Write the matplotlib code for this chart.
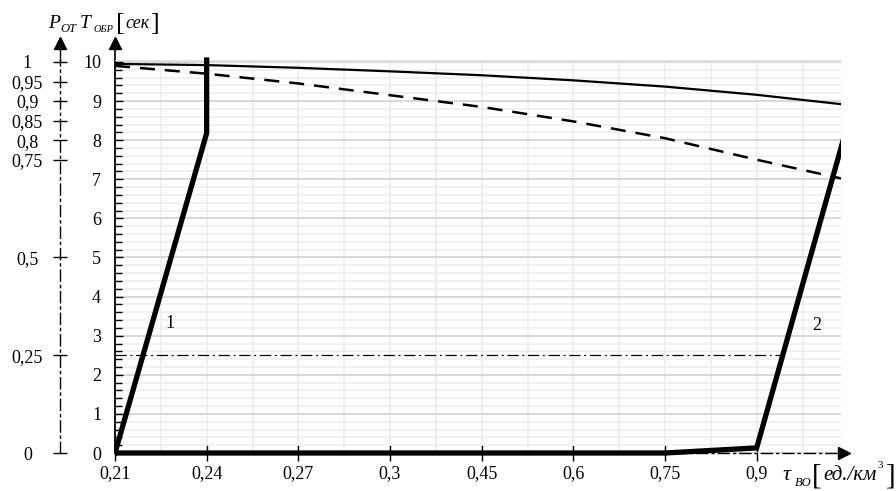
import numpy as np
import matplotlib
matplotlib.use("Agg")
import matplotlib.pyplot as plt
from matplotlib.patches import Rectangle
from matplotlib.ticker import MultipleLocator

plt.rcParams['font.family'] = ['Liberation Serif', 'DejaVu Serif']

# categories on the tau axis (equal spacing, index positions)
tau_labels = ['0,21', '0,24', '0,27', '0,3', '0,45', '0,6', '0,75', '0,9']
# curves run one step past the last category and are clipped at the frame
x_ext = np.arange(len(tau_labels) + 1)

t_solid = [9.95, 9.92, 9.85, 9.76, 9.66, 9.53, 9.37, 9.16, 8.9]
t_dashed = [9.9, 9.7, 9.45, 9.15, 8.85, 8.48, 8.05, 7.5, 6.98]

line1_x = [0, 1, 1]
line1_t = [0, 8.18, 10.05]
line2_x = [0, 6, 7, 8]
line2_t = [0, 0, 0.13, 8.47]

p_level = 0.25
p_ticks = [0, 0.25, 0.5, 0.75, 0.8, 0.85, 0.9, 0.95, 1]
p_labels = ['0', '0,25', '0,5', '0,75', '0,8', '0,85', '0,9', '0,95', '1']

W, H = 896, 491
fig = plt.figure(figsize=(W / 100, H / 100), dpi=100)
ax = fig.add_axes([115 / W, 38 / H, 726 / W, 393 / H])
t_top = 10.05
ax.set_xlim(0, 7.92)
ax.set_ylim(0, t_top)

# grid
ax.set_xticks(np.arange(len(tau_labels)), tau_labels)
ax.set_xticks(np.arange(0.5, 8, 0.5), minor=True)
ax.set_yticks(range(11))
ax.yaxis.set_minor_locator(MultipleLocator(0.2))
ax.grid(which='major', axis='y', color='#d6d6d6', lw=1.3, zorder=0)
ax.grid(which='minor', axis='y', color='#eeeeee', lw=1.1, zorder=0)
ax.grid(which='both', axis='x', color='#eeeeee', lw=1.3, zorder=0)
ax.set_axisbelow(True)

ax.tick_params(axis='x', which='major', direction='inout', length=11, width=1,
               pad=3.5, labelsize=13)
ax.tick_params(axis='x', which='minor', length=0)
ax.tick_params(axis='y', which='major', direction='in', length=6, width=1,
               pad=10, labelsize=13)
ax.tick_params(axis='y', which='minor', direction='in', length=5, width=1)

ax.spines['right'].set_visible(False)
ax.spines['top'].set_color('#e4e4e4')
ax.spines['left'].set_linewidth(1.3)
ax.spines['bottom'].set_linestyle((0, (8, 3, 1.5, 3)))
ax.spines['bottom'].set_linewidth(1)

# curves; clip a little below the frame so the thick base line keeps its width
clip = Rectangle((0, -0.02), 1, 1.04, transform=ax.transAxes, fill=False)
ax.plot(x_ext, t_solid, color='black', lw=1.6, zorder=3)
ax.plot(x_ext, t_dashed, color='black', lw=1.8, dashes=(6, 4), zorder=3)
for lx, lt in [(line1_x, line1_t), (line2_x, line2_t)]:
    ln, = ax.plot(lx, lt, color='black', lw=3.8, zorder=4,
                  solid_joinstyle='miter')
    ln.set_clip_path(clip)

# level P = 0.25 up to curve 2
t_level = p_level * 10
x_end = np.interp(t_level, line2_t[2:], line2_x[2:])
ax.plot([0, x_end], [t_level, t_level], color='black', lw=0.9,
        dashes=(9, 3, 1.5, 3), zorder=2)

ax.text(0.6, 3.3, '1', fontsize=13, ha='center', va='center')
ax.text(7.66, 3.25, '2', fontsize=13, ha='center', va='center')

# P axis
ax2 = ax.twinx()
ax2.set_ylim(0, t_top / 10)
ax2.yaxis.tick_left()
for s in ['right', 'top', 'bottom']:
    ax2.spines[s].set_visible(False)
ax2.spines['left'].set_position(('outward', 39.6))
ax2.spines['left'].set_linestyle((0, (8, 3, 1.5, 3)))
ax2.spines['left'].set_linewidth(1)
ax2.set_yticks(p_ticks, p_labels)
ax2.tick_params(axis='y', direction='inout', length=10, width=1, pad=18.5,
                labelsize=13)
for lab in ax2.get_yticklabels():
    lab.set_horizontalalignment('center')

# arrows
px = -55 / 726
for xa in [0, px]:
    ax.plot([xa, xa], [1, 1.04], color='black', lw=1.2 if xa == 0 else 1,
            transform=ax.transAxes, clip_on=False)
    ax.plot([xa], [1.042], marker='^', ms=9, color='black',
            transform=ax.transAxes, clip_on=False)
ax.plot([1.004], [0], marker='>', ms=9, color='black',
        transform=ax.transAxes, clip_on=False)


def ftext(x, y, s, **kw):
    fig.text(x / W, 1 - y / H, s, **kw)


# axis titles
ftext(54, 24, 'P', fontsize=14, style='italic', ha='center', va='center')
ftext(68, 29, 'OT', fontsize=9, style='italic', ha='center', va='center')
ftext(85, 24, 'T', fontsize=14, style='italic', ha='center', va='center')
ftext(103, 29, 'ОБР', fontsize=7.5, style='italic', ha='center', va='center')
ftext(120, 24, '[', fontsize=19, ha='center', va='center')
ftext(137, 23, 'сек', fontsize=13, style='italic', ha='center', va='center')
ftext(154, 24, ']', fontsize=19, ha='center', va='center')

ftext(787, 476, 'τ', fontsize=16, style='italic', ha='center', va='center')
ftext(803, 483, 'BO', fontsize=9, style='italic', ha='center', va='center')
ftext(817, 476, '[', fontsize=21, ha='center', va='center')
ftext(850, 476, 'ед./км', fontsize=15, style='italic', ha='center', va='center')
ftext(880, 466, '3', fontsize=8, ha='center', va='center')
ftext(891, 476, ']', fontsize=21, ha='center', va='center')

fig.savefig('out.png', dpi=100)
